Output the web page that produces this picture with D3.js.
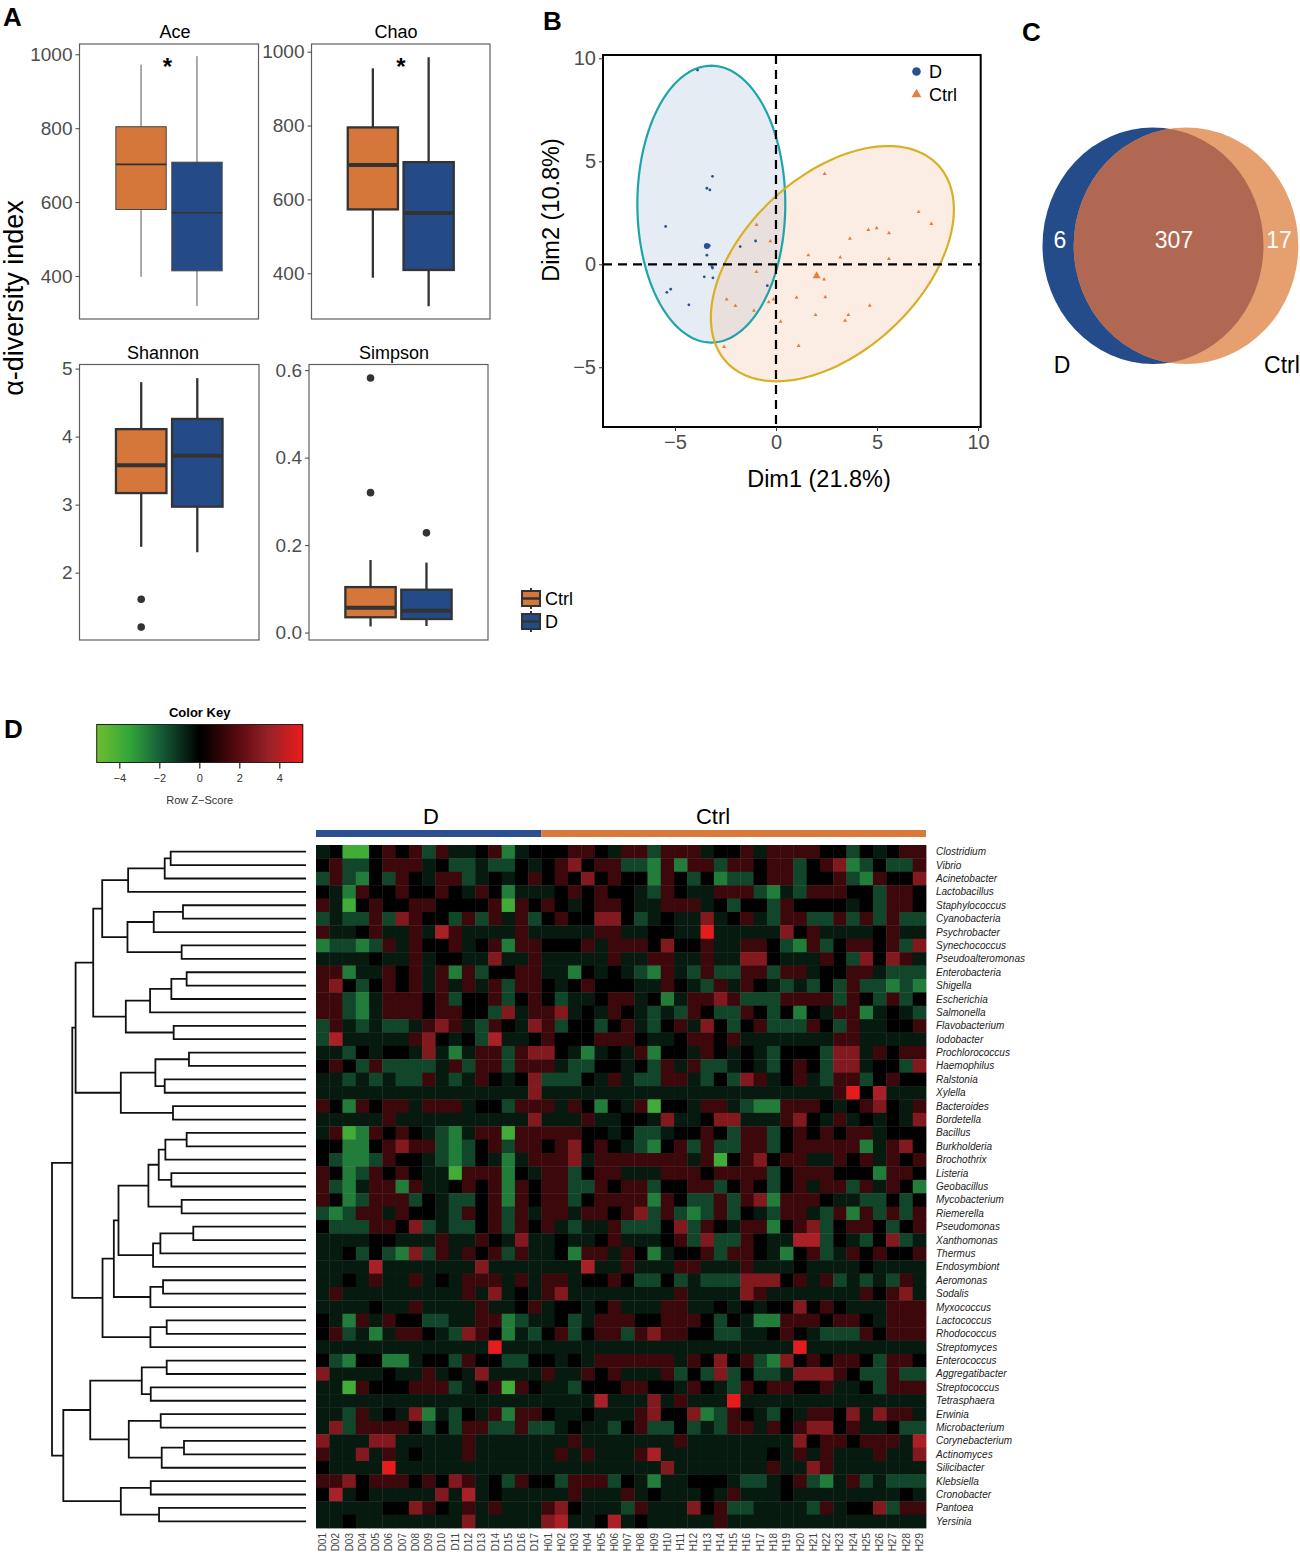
<!DOCTYPE html>
<html>
<head>
<meta charset="utf-8">
<script src="https://cdn.jsdelivr.net/npm/d3@7"></script>
<style>
  body { margin: 0; background: #fff; }
  svg { display: block; font-family: "Liberation Sans", Arial, Helvetica, sans-serif; }
</style>
</head>
<body>
<div id="chart"></div>
<script>
// ---------------- data ----------------

// A: alpha diversity box stats, order = groups
var groups = ["Ctrl", "D"];
var aceStats = [
  {min: 398, q1: 580, med: 702, q3: 804, max: 972, out: []},
  {min: 319, q1: 414, med: 571, q3: 708, max: 995, out: []}
];
var chaoStats = [
  {min: 388, q1: 573, med: 693, q3: 795, max: 955, out: []},
  {min: 311, q1: 409, med: 563, q3: 701, max: 985, out: []}
];
var shannonStats = [
  {min: 2.38, q1: 3.17, med: 3.58, q3: 4.11, max: 4.80, out: [1.61, 1.20]},
  {min: 2.30, q1: 2.97, med: 3.72, q3: 4.26, max: 4.86, out: []}
];
var simpsonStats = [
  {min: 0.014, q1: 0.035, med: 0.057, q3: 0.104, max: 0.166, out: [0.582, 0.320]},
  {min: 0.015, q1: 0.031, med: 0.050, q3: 0.098, max: 0.160, out: [0.228]}
];
var aceTicks = [400, 600, 800, 1000];
var shannonTicks = [2, 3, 4, 5];
var simpsonTicks = [0, 0.2, 0.4, 0.6];

// B: PCA scores
var dPoints = [[-3.88, 9.43], [-3.14, 4.27], [-3.42, 3.69], [-3.27, 3.61], [-5.46, 1.84],
  [-3.42, 0.44], [-3.17, -0.11], [-3.14, -0.18], [-1.01, 1.13], [-1.77, 0.86], [-3.55, -0.61],
  [-3.12, -0.66], [-5.21, -1.21], [-5.40, -1.36], [-4.31, -1.97], [-0.43, -1.04], [-3.3, 0.9]];
var ctrlPoints = [[2.41, 4.39], [7.06, 2.54], [7.69, 1.96], [4.57, 1.67], [4.98, 1.76], [5.59, 1.52],
  [3.66, 1.25], [1.60, 0.44], [3.18, 0.34], [5.59, 0.26], [-0.96, 1.91], [-0.28, 1.12], [-0.97, -0.37],
  [2.38, -0.73], [-2.44, -1.70], [-2.01, -2.02], [-0.36, -1.84], [-0.13, -1.70], [-1.09, -2.25],
  [1.02, -1.62], [2.44, -1.59], [4.64, -2.01], [1.96, -2.46], [3.58, -2.46], [3.42, -2.73],
  [0.23, -2.78], [1.12, -3.96], [-2.57, -4.01], [2.05, -0.6]];
var dMean = [-3.42, 0.89];
var ctrlMean = [2.01, -0.57];
var dEllipse = {cx: -3.2, cy: 2.92, a: 6.72, b: 3.66, angle: 90};
var ctrlEllipse = {cx: 2.79, cy: 0.03, a: 7.09, b: 4.30, angle: 41.8};
var pcaTicks = [-5, 0, 5, 10];

// C: Venn counts  [D only, shared, Ctrl only]
var vennSets = ["D", "Ctrl"];
var vennCounts = [6, 307, 17];

// D: heatmap
var samples = ["D01","D02","D03","D04","D05","D06","D07","D08","D09","D10","D11","D12","D13","D14","D15","D16","D17",
  "H01","H02","H03","H04","H05","H06","H07","H08","H09","H10","H11","H12","H13","H14","H15","H16","H17","H18","H19",
  "H20","H21","H22","H23","H24","H25","H26","H27","H28","H29"];
var sampleGroup = ["D","D","D","D","D","D","D","D","D","D","D","D","D","D","D","D","D",
  "Ctrl","Ctrl","Ctrl","Ctrl","Ctrl","Ctrl","Ctrl","Ctrl","Ctrl","Ctrl","Ctrl","Ctrl","Ctrl","Ctrl","Ctrl","Ctrl","Ctrl",
  "Ctrl","Ctrl","Ctrl","Ctrl","Ctrl","Ctrl","Ctrl","Ctrl","Ctrl","Ctrl","Ctrl","Ctrl","Ctrl"];
var genera = ["Clostridium","Vibrio","Acinetobacter","Lactobacillus","Staphylococcus","Cyanobacteria","Psychrobacter",
  "Synechococcus","Pseudoalteromonas","Enterobacteria","Shigella","Escherichia","Salmonella","Flavobacterium",
  "Iodobacter","Prochlorococcus","Haemophilus","Ralstonia","Xylella","Bacteroides","Bordetella","Bacillus",
  "Burkholderia","Brochothrix","Listeria","Geobacillus","Mycobacterium","Riemerella","Pseudomonas","Xanthomonas",
  "Thermus","Endosymbiont","Aeromonas","Sodalis","Myxococcus","Lactococcus","Rhodococcus","Streptomyces",
  "Enterococcus","Aggregatibacter","Streptococcus","Tetrasphaera","Erwinia","Microbacterium","Corynebacterium",
  "Actinomyces","Silicibacter","Klebsiella","Cronobacter","Pantoea","Yersinia"];
// z-score levels, one char per sample
var zLevel = {G: -3.9, g: -2.6, h: -1.45, k: -0.55, "0": 0, m: 1.3, r: 2.9, R: 3.8, X: 5.0};
var zRows = [
  "k0GG0m0mhmkk0mgk000mm0k" + "mmhmmmk00mkmmmm00h0k0mm",
  "0mhh0mmmk0hhkhh0k0mr0mm" + "hhgmgmmhmm0mmh0mrgh0hhm",
  "hmhg0hm0kmmhk0k0m0m0r0m" + "00gm0h0ghh0mmh00mhgm00r",
  "0kgm00m00m0km0gkkk0m0m0" + "0khm0kkmmmhgkhmmm00hmm0",
  "mkG0m00mm0000mGm0m0k0mm" + "0kkmmmk0h00hm0000k0hmm0",
  "hkhhmhrm00hmhmkmh0m00rr" + "0hk0kkrk0mkhmmhhmhmhmhh",
  "mkk0mkkmkRmkkkkmkkkkkmm" + "kk00kkXkkkkkr0mkkkk0mkk",
  "ghhghmkm00mk0mgmm000mkm" + "mm0r00mkkmm0hgmh0mm0mhr",
  "kkkk0kkmk00kkrkkmkkkkkm" + "kkmmkkmkkrr0kkkm0hr0rmk",
  "mmgkkm0mkmgmh00mmkkg0k0" + "khgmkhmhhmmhmmk00mmkhhh",
  "mr0h0m0mkmkmkmhmm0k0m00" + "0kkm0khmkm0khkh0hmhhghg",
  "mmhgkmmm0mh00mh0m0hkk0m" + "mk0gkmmrmhhhmmmmhm0hmh0",
  "mmhgkmmm0mm00hrkmmrk0km" + "0khkhm0hhm0h0g0kmmgk0kh",
  "hmkhkhhkmrmkhm0krmh00h0" + "mkh0mkr0h0mhhhm0hmkk00m",
  "hRkkkkkmr0k0hRkk0m000mm" + "m0kk0mm0mkkkkkkkmmkkkkk",
  "kkh0k00krkgkmmhmrr0kgk0" + "kmg00km0k0kh000hrrkm0mm",
  "0m0hmhhhhkmhmmhmmmkhh00" + "k0hmkmhhk0kh0m0hrrk00hr",
  "kkhkhkhhmkhkm0k0rhhh0km" + "khhmmkh0hrmk0mkhmmh0m00",
  "kkkkkkkkkkkkkkkkrkkkkkk" + "kkkkkkkkkkkkkkkkmX0Rkkk",
  "m0gm0mmkmmmk00hmmmkm0g0" + "kmG00kmmkhggmmm0k0mr0km",
  "kkkkkmkkkkkkkkkkrkkkmkk" + "00krkk0rrkkkmr0kmk0k0kr",
  "kmGgm0m0khgkmmGmmmmm00k" + "0hhk00m0hmmh0m0m0mmk000",
  "00gg0mrmmhgh0mhmm0mr0m0" + "khg0mhmhhmmh0mmmmmgkmr0",
  "0hgghm00khgh0kgkmmmrkmm" + "mmmmmkmG0mr0mmkkm0mkm0m",
  "m0ghm0m0kkGmmmg0kmmh0mm" + "kkkmmm0mmmmh0mmm000gmm0",
  "mhgkmmgmkk0m0mgm0mmhhm0" + "mmh00mmh0m0h0mkmmhmkm0g",
  "m0ghmmmh0khh0mgm0mmh0mm" + "mmgm0hhmhmrgmmm0kkhh0h0",
  "hghmmkm00khm0mhmkmmkmm0" + "mrhmhghmh0khmmkhmgmhmhm",
  "0hhhmm0rhkhh0mhm0mkhkkm" + "hhh0rhm0kmmg0mrh0mm0h0m",
  "kkkk00kkkmkkm0krkk0kk0m" + "kkk0mhrhhm0kkRRh0kh0rhk",
  "kk0h0hgrhmkm0mhmkk0gmmk" + "m0gk00mhmm0kg0mhkm0m00m",
  "kkkkRkkkkkkkrkkkkkkkRkk" + "mkkkmmkkkmkkk0kkkk0kkkk",
  "kk0kmkkmk0kmmmkmkmmk00m" + "0hh0hkhhhrrr0mkmhkhkhmk",
  "kmkkkkkkkkkmkrk0kmrkkkk" + "kkkkmkkkkrmkkkkkkkm0mrk",
  "kkkk0kkmkkkkmkk0mk00k0m" + "kkkmmkk0k0k00r0m0kkkmmm",
  "0kgmkm00hhkkmmghkk0hkmm" + "m00mmm0h0kggmmm0mm0kmmm",
  "0mhkgkmm0khrm0gkh0mh0mm" + "hmrmm00hhkk0m0khhhm0mmm",
  "kkkkkkkkkkkkkXkkkkkkkkk" + "kkkkkkkkkkkkkXkkkkkkkkk",
  "0hg00ggk00hm00hh00k0kmm" + "mmmmkm0r0mhgr0m0mm0hmm0",
  "rkkkk0kkmk0krkkkkmkkm0m" + "kkkmh0hrh0hhkrrrm0hhmhh",
  "kkGm000mmmhk0mGm0kkh000" + "mm00km0khm0mm00mkk0hmmm",
  "kkkkkkkkkkkkkkkkkkkkkRk" + "kkrkmkkkXkkkkkkkkkkkkkk",
  "kkhmk0krgkh0kmgmm0kk0kk" + "kmr00rghm0kh0kmm0rkrmmk",
  "krhmmmm0h0hmmhhmhhk0kkh" + "0mhh0hkhmmkm0mrr0mkk0hh",
  "rkkkrrkkkkkmkkkkkkkmkkk" + "kkkkmkkkkkkkkr0mm0mmmkR",
  "mkkrkmk0kkkmkkkkkkmkmkk" + "kmRkkkkkkkk0kmkmkkkmkkr",
  "0kkkkXkkkkkkkkkkkkkkkkk" + "kkkrkkkkkkkmkkrmkkkkkkk",
  "mmr0mmm0m0rmk0hm00hmmmh" + "0kgkk000khhk0mhgkmhkhhh",
  "0Rk0kkkkkrkRk0kkkkkmkkk" + "mk0kkk0kmkkk0kkkkkkkk0k",
  "kkkkk00rm0kmkmkkkmr0kkk" + "hmkkkr0mhhkkkkhmk00rhmm",
  "kk0kkkkkkkkrkkkkkrRkk0R" + "k0kkkkkmkkkkkkkkkkkkkkk"
];
// row dendrogram: [height, left, right], leaves are row indices
var rowTree = [764,
  [703,
    [693,
      [640,
        [613,
          [535, [425, [407, 0, 1], 2], 3],
          [537, [458, [370, 4, 5], 6], [374, 7, 8]]],
        [542, [469, [405, [359, 9, 10], 11], 12], [398, 13, 14]]],
      [557, [453, [352, 15, 16], [425, 17, 18]], [400, 19, 20]]],
    [612,
      [578,
        [564,
          [474, [443, [423, [359, 21, 22], 23], [405, 24, 25]], [374, 26, 27]],
          [460, [438, [339, 28, 29], 30], 31]],
        [468, [430, 32, 33], 34]],
      [468, [419, 35, 36], 37]]],
  [730,
    [649,
      [494, [419, 38, 39], [467, 40, 41]],
      [533, [437, 42, 43], [434, [367, 44, 45], 46]]],
    [557, [467, 47, 48], [442, 49, 50]]]];
var keyTicks = [-4, -2, 0, 2, 4];

// ---------------- drawing ----------------
var orange = "#d5773b", blue = "#244b87";
var FONT = "Liberation Sans, Arial, Helvetica, sans-serif";

var svg = d3.select("#chart").append("svg")
  .attr("width", 1300).attr("height", 1558);
svg.append("rect").attr("width", 1300).attr("height", 1558).attr("fill", "#fff");

function panelLetter(t, x, y) {
  svg.append("text").attr("x", x).attr("y", y).attr("font-size", 26)
    .attr("font-weight", "bold").text(t);
}
panelLetter("A", 3, 26);
panelLetter("B", 543, 30);
panelLetter("C", 1022, 41);
panelLetter("D", 4, 738);

// ---- A: box plots ----
function boxPanel(o) {
  var g = svg.append("g");
  var x = d3.scaleBand().domain(groups).range([o.x0, o.x1])
    .paddingInner(0.1).paddingOuter(0.65);
  var y = d3.scaleLinear().domain(o.domain).range([o.y1, o.y0]);
  var lw = o.thin ? 1 : 2.3;

  g.append("rect").attr("x", o.x0).attr("y", o.y0)
    .attr("width", o.x1 - o.x0).attr("height", o.y1 - o.y0)
    .attr("fill", "none").attr("stroke", "#5f5f5f").attr("stroke-width", 1.2);

  g.append("g").attr("transform", "translate(" + o.x0 + ",0)")
    .call(d3.axisLeft(y).tickValues(o.ticks).tickSize(4).tickPadding(3).tickFormat(o.fmt))
    .call(function(a) {
      a.select(".domain").remove();
      a.selectAll("line").attr("stroke", "#444");
      a.selectAll("text").attr("fill", "#4d4d4d").attr("font-size", 19).attr("font-family", FONT);
      a.attr("font-family", FONT);
    });

  g.append("text").attr("x", o.titleX).attr("y", o.y0 - 6)
    .attr("text-anchor", "middle").attr("font-size", 18).text(o.title);

  var b = g.selectAll(".box").data(o.stats).join("g").attr("class", "box");
  b.append("line")
    .attr("x1", function(d, i) { return x(groups[i]) + x.bandwidth() / 2; })
    .attr("x2", function(d, i) { return x(groups[i]) + x.bandwidth() / 2; })
    .attr("y1", function(d) { return y(d.max); })
    .attr("y2", function(d) { return y(d.min); })
    .attr("stroke", o.thin ? "#555" : "#333").attr("stroke-width", lw);
  b.append("rect")
    .attr("x", function(d, i) { return x(groups[i]); })
    .attr("width", x.bandwidth())
    .attr("y", function(d) { return y(d.q3); })
    .attr("height", function(d) { return y(d.q1) - y(d.q3); })
    .attr("fill", function(d, i) { return i === 0 ? orange : blue; })
    .attr("stroke", o.thin ? "#444" : "#333").attr("stroke-width", lw);
  b.append("line")
    .attr("x1", function(d, i) { return x(groups[i]); })
    .attr("x2", function(d, i) { return x(groups[i]) + x.bandwidth(); })
    .attr("y1", function(d) { return y(d.med); })
    .attr("y2", function(d) { return y(d.med); })
    .attr("stroke", "#333").attr("stroke-width", o.thin ? 1.6 : 4);
  b.each(function(d, i) {
    d3.select(this).selectAll("circle").data(d.out).join("circle")
      .attr("cx", x(groups[i]) + x.bandwidth() / 2)
      .attr("cy", function(v) { return y(v); })
      .attr("r", 3.8).attr("fill", "#333");
  });

  if (o.starX) {
    g.append("text").attr("x", o.starX).attr("y", 75)
      .attr("text-anchor", "middle").attr("font-size", 24).attr("font-weight", "bold").text("*");
  }
}

boxPanel({title: "Ace", titleX: 175, x0: 79.5, x1: 258.5, y0: 44, y1: 319, domain: [283.6, 1027.9],
  ticks: aceTicks, fmt: d3.format("d"), stats: aceStats, thin: true, starX: 167.5});
boxPanel({title: "Chao", titleX: 396, x0: 311.5, x1: 490, y0: 44, y1: 319, domain: [276.3, 1020.8],
  ticks: aceTicks, fmt: d3.format("d"), stats: chaoStats, starX: 401});
boxPanel({title: "Shannon", titleX: 163, x0: 79.5, x1: 259, y0: 364.5, y1: 640, domain: [1.01, 5.06],
  ticks: shannonTicks, fmt: d3.format("d"), stats: shannonStats});
boxPanel({title: "Simpson", titleX: 394, x0: 309, x1: 488, y0: 364.5, y1: 640, domain: [-0.017, 0.613],
  ticks: simpsonTicks, fmt: d3.format(".1f"), stats: simpsonStats});

svg.append("text").attr("transform", "translate(23,298) rotate(-90)")
  .attr("text-anchor", "middle").attr("font-size", 27).text("α-diversity index");

// legend for A
var legA = svg.append("g").selectAll("g").data(groups).join("g")
  .attr("transform", function(d, i) { return "translate(522," + (591 + i * 23) + ")"; });
legA.append("line").attr("x1", 9).attr("x2", 9).attr("y1", -3).attr("y2", 18)
  .attr("stroke", "#333").attr("stroke-width", 2);
legA.append("rect").attr("width", 18).attr("height", 15)
  .attr("fill", function(d, i) { return i === 0 ? orange : blue; })
  .attr("stroke", "#333").attr("stroke-width", 2);
legA.append("line").attr("x1", 0).attr("x2", 18).attr("y1", 7.5).attr("y2", 7.5)
  .attr("stroke", "#333").attr("stroke-width", 2.5);
legA.append("text").attr("x", 23).attr("y", 14).attr("font-size", 18).text(function(d) { return d; });

// ---- B: PCA ----
var xB = d3.scaleLinear().domain([-8.56, 10.13]).range([603, 980.7]);
var yB = d3.scaleLinear().domain([-7.9, 10.16]).range([427, 55]);
var gB = svg.append("g");

function ellipsePts(e) {
  var th = e.angle * Math.PI / 180;
  return d3.range(0, 2 * Math.PI, Math.PI / 90).map(function(t) {
    return [e.cx + e.a * Math.cos(t) * Math.cos(th) - e.b * Math.sin(t) * Math.sin(th),
            e.cy + e.a * Math.cos(t) * Math.sin(th) + e.b * Math.sin(t) * Math.cos(th)];
  });
}
var ellLine = d3.line().x(function(p) { return xB(p[0]); }).y(function(p) { return yB(p[1]); })
  .curve(d3.curveLinearClosed);

gB.append("path").attr("d", ellLine(ellipsePts(dEllipse)))
  .attr("fill", "#8fa9cf").attr("fill-opacity", 0.22);
gB.append("path").attr("d", ellLine(ellipsePts(ctrlEllipse)))
  .attr("fill", "#f2b994").attr("fill-opacity", 0.25);
gB.append("path").attr("d", ellLine(ellipsePts(dEllipse)))
  .attr("fill", "none").attr("stroke", "#1ea4aa").attr("stroke-width", 2.2);
gB.append("path").attr("d", ellLine(ellipsePts(ctrlEllipse)))
  .attr("fill", "none").attr("stroke", "#d8b023").attr("stroke-width", 2.2);

gB.append("line").attr("x1", xB(0)).attr("x2", xB(0)).attr("y1", 55).attr("y2", 427)
  .attr("stroke", "#000").attr("stroke-width", 2.2).attr("stroke-dasharray", "9,6");
gB.append("line").attr("x1", 603).attr("x2", 980.7).attr("y1", yB(0)).attr("y2", yB(0))
  .attr("stroke", "#000").attr("stroke-width", 2.2).attr("stroke-dasharray", "9,6");

gB.selectAll(".dpt").data(dPoints).join("circle").attr("class", "dpt")
  .attr("cx", function(p) { return xB(p[0]); }).attr("cy", function(p) { return yB(p[1]); })
  .attr("r", 1.4).attr("fill", "#2a4f93");
var tri = d3.symbol().type(d3.symbolTriangle);
gB.selectAll(".cpt").data(ctrlPoints).join("path").attr("class", "cpt")
  .attr("transform", function(p) { return "translate(" + xB(p[0]) + "," + yB(p[1]) + ")"; })
  .attr("d", tri.size(7)()).attr("fill", "#e3803f");
gB.append("circle").attr("cx", xB(dMean[0])).attr("cy", yB(dMean[1])).attr("r", 3).attr("fill", "#2a4f93");
gB.append("path").attr("transform", "translate(" + xB(ctrlMean[0]) + "," + yB(ctrlMean[1]) + ")")
  .attr("d", tri.size(28)()).attr("fill", "#e3803f");

gB.append("rect").attr("x", 603).attr("y", 55).attr("width", 377.7).attr("height", 372)
  .attr("fill", "none").attr("stroke", "#000").attr("stroke-width", 2);

function styleAxis(a) {
  a.select(".domain").remove();
  a.attr("font-family", FONT);
  a.selectAll("line").attr("stroke", "#333");
  a.selectAll("text").attr("fill", "#4d4d4d").attr("font-size", 20);
}
gB.append("g").attr("transform", "translate(0,427)")
  .call(d3.axisBottom(xB).tickValues(pcaTicks).tickSize(4).tickPadding(4)).call(styleAxis);
gB.append("g").attr("transform", "translate(603,0)")
  .call(d3.axisLeft(yB).tickValues(pcaTicks).tickSize(4).tickPadding(3)).call(styleAxis);

gB.append("text").attr("x", 819).attr("y", 487).attr("text-anchor", "middle")
  .attr("font-size", 23.5).text("Dim1 (21.8%)");
gB.append("text").attr("transform", "translate(559,210) rotate(-90)").attr("text-anchor", "middle")
  .attr("font-size", 23.5).text("Dim2 (10.8%)");

gB.append("circle").attr("cx", 916.5).attr("cy", 71.5).attr("r", 4.3).attr("fill", "#2a4f93");
gB.append("text").attr("x", 929).attr("y", 78).attr("font-size", 18).text("D");
gB.append("path").attr("transform", "translate(916.5,94.5)").attr("d", tri.size(42)()).attr("fill", "#e3803f");
gB.append("text").attr("x", 929).attr("y", 101).attr("font-size", 18).text("Ctrl");

// ---- C: Venn ----
var gC = svg.append("g");
var vennShapes = [{cx: 1153, cy: 245.7, rx: 110.5, ry: 118.3}, {cx: 1186, cy: 245.7, rx: 112.3, ry: 118.3}];
svg.append("defs").append("clipPath").attr("id", "clipD").append("ellipse")
  .attr("cx", vennShapes[0].cx).attr("cy", vennShapes[0].cy)
  .attr("rx", vennShapes[0].rx).attr("ry", vennShapes[0].ry);
gC.append("ellipse").attr("cx", vennShapes[0].cx).attr("cy", vennShapes[0].cy)
  .attr("rx", vennShapes[0].rx).attr("ry", vennShapes[0].ry).attr("fill", "#244b8a");
gC.append("ellipse").attr("cx", vennShapes[1].cx).attr("cy", vennShapes[1].cy)
  .attr("rx", vennShapes[1].rx).attr("ry", vennShapes[1].ry).attr("fill", "#e6a070");
gC.append("ellipse").attr("cx", vennShapes[1].cx).attr("cy", vennShapes[1].cy)
  .attr("rx", vennShapes[1].rx).attr("ry", vennShapes[1].ry).attr("fill", "#b06852")
  .attr("clip-path", "url(#clipD)");
var vennLabelX = [1060, 1174, 1279];
gC.selectAll(".vn").data(vennCounts).join("text").attr("class", "vn")
  .attr("x", function(d, i) { return vennLabelX[i]; }).attr("y", 248)
  .attr("text-anchor", "middle").attr("font-size", 23).attr("fill", "#fff")
  .text(function(d) { return d; });
var vennNameX = [1062, 1282];
gC.selectAll(".vs").data(vennSets).join("text").attr("class", "vs")
  .attr("x", function(d, i) { return vennNameX[i]; }).attr("y", 373)
  .attr("text-anchor", "middle").attr("font-size", 23).text(function(d) { return d; });

// ---- D: heatmap ----
var zColor = d3.scaleLinear()
  .domain([-5.13, -3.5, -2, 0, 2, 3.5, 5.17])
  .range(["#6dbe30", "#33a63a", "#17603a", "#000000", "#5c0c12", "#9a2228", "#ee1b1b"]);

var xH = d3.scaleBand().domain(samples).range([316, 926]);
var yH = d3.scaleBand().domain(genera).range([845, 1528]);
var gH = svg.append("g");

var cells = [];
zRows.forEach(function(s, r) {
  s.split("").forEach(function(ch, c) {
    cells.push({row: genera[r], col: samples[c], z: zLevel[ch]});
  });
});
gH.selectAll(".cell").data(cells).join("rect").attr("class", "cell")
  .attr("x", function(d) { return xH(d.col); })
  .attr("y", function(d) { return yH(d.row); })
  .attr("width", xH.bandwidth() + 0.4)
  .attr("height", yH.bandwidth() + 0.4)
  .attr("fill", function(d) { return zColor(d.z); });

gH.selectAll(".rl").data(genera).join("text").attr("class", "rl")
  .attr("x", 936).attr("y", function(d) { return yH(d) + yH.bandwidth() / 2; })
  .attr("dy", "0.35em").attr("font-size", 10).attr("font-style", "italic").attr("fill", "#222")
  .text(function(d) { return d; });

gH.selectAll(".cl").data(samples).join("text").attr("class", "cl")
  .attr("transform", function(d) { return "translate(" + (xH(d) + xH.bandwidth() / 2) + ",1533) rotate(-90)"; })
  .attr("dy", "0.35em").attr("text-anchor", "end").attr("font-size", 10).attr("fill", "#444")
  .text(function(d) { return d; });

// column group bar
var groupLabelX = {D: 431, Ctrl: 713};
["D", "Ctrl"].forEach(function(gname) {
  var cols = samples.filter(function(s, i) { return sampleGroup[i] === gname; });
  var x0 = xH(cols[0]), x1 = xH(cols[cols.length - 1]) + xH.bandwidth();
  gH.append("rect").attr("x", x0).attr("y", 830).attr("width", x1 - x0).attr("height", 7)
    .attr("fill", gname === "D" ? "#2b4f8f" : "#d87a3a");
  gH.append("text").attr("x", groupLabelX[gname]).attr("y", 824).attr("text-anchor", "middle")
    .attr("font-size", 22).text(gname);
});

// row dendrogram
var xT = d3.scaleLinear().domain([0, 764]).range([306, 52]);
var gT = svg.append("g").attr("fill", "none").attr("stroke", "#111").attr("stroke-width", 1.8);
function drawNode(n) {
  if (typeof n === "number") {
    return {x: xT(0), y: yH(genera[n]) + yH.bandwidth() / 2};
  }
  var a = drawNode(n[1]), b = drawNode(n[2]), xn = xT(n[0]);
  gT.append("path").attr("d",
    "M" + a.x + "," + a.y + "H" + xn + "V" + b.y + "H" + b.x);
  return {x: xn, y: (a.y + b.y) / 2};
}
drawNode(rowTree);

// colour key
var xK = d3.scaleLinear().domain([-5.13, 5.17]).range([96.7, 302.7]);
var gK = svg.append("g");
var keySteps = d3.range(-5.13, 5.17, 0.05);
gK.selectAll(".ks").data(keySteps).join("rect").attr("class", "ks")
  .attr("x", function(d) { return xK(d); }).attr("y", 724.5)
  .attr("width", xK(0.06) - xK(0) + 0.3).attr("height", 38)
  .attr("fill", function(d) { return zColor(d); });
gK.append("rect").attr("x", 96.7).attr("y", 724.5).attr("width", 206).attr("height", 38)
  .attr("fill", "none").attr("stroke", "#222").attr("stroke-width", 1);
gK.append("g").attr("transform", "translate(0,762.5)")
  .call(d3.axisBottom(xK).tickValues(keyTicks).tickSize(6).tickPadding(6))
  .call(function(a) {
    a.select(".domain").remove();
    a.attr("font-family", FONT);
    a.selectAll("line").attr("stroke", "#222").attr("stroke-width", 1.2);
    a.selectAll("text").attr("fill", "#333").attr("font-size", 11);
  });
gK.append("text").attr("x", 199.7).attr("y", 717).attr("text-anchor", "middle")
  .attr("font-size", 13).attr("font-weight", "bold").text("Color Key");
gK.append("text").attr("x", 199.7).attr("y", 804).attr("text-anchor", "middle")
  .attr("font-size", 11).attr("fill", "#333").text("Row Z\u2212Score");
</script>
</body>
</html>
